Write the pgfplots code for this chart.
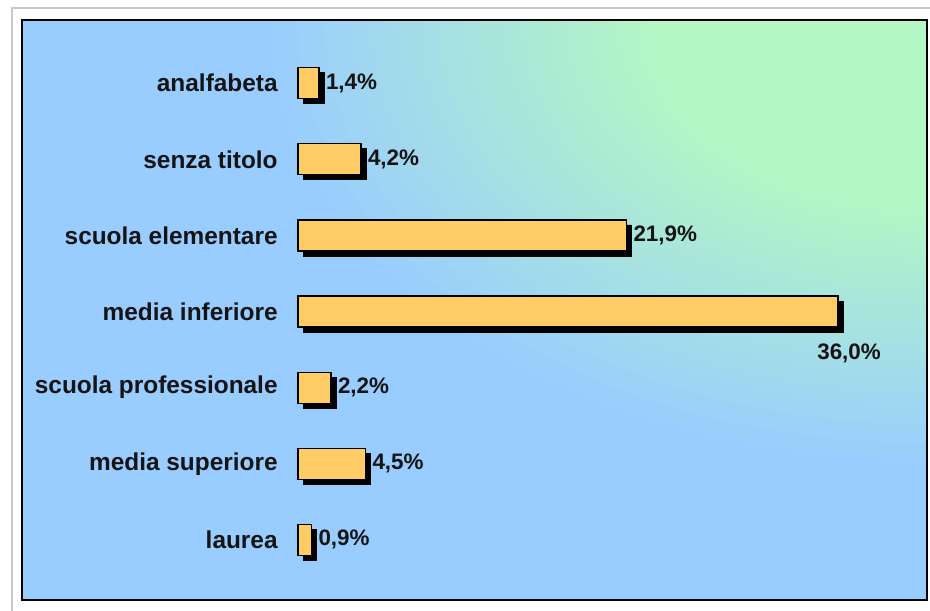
\documentclass[border=0pt]{standalone}
\usepackage{fontspec}
\setmainfont{Liberation Sans}
\usepackage{pgfplots}
\usepackage{pgfplotstable}
\pgfplotsset{compat=1.18}
\definecolor{bggreen}{RGB}{180,246,196}
\definecolor{bgblue}{RGB}{153,204,255}
\definecolor{barfill}{RGB}{255,204,102}
\pgfplotstableread[col sep=comma]{
idx,val,zero,name
6,1.4,0,analfabeta
5,4.2,0,senza titolo
4,21.9,0,scuola elementare
3,36.0,0,media inferiore
2,2.2,0,scuola professionale
1,4.5,0,media superiore
0,0.9,0,laurea
}\datatable
\pgfplotstableread[col sep=comma]{
idx,val
6,1.4
5,4.2
4,21.9
2,2.2
1,4.5
0,0.9
}\labeltable
\begin{document}
\begin{tikzpicture}
\path[use as bounding box] (0,0) rectangle (465bp,305.5bp);
\draw[black!22, line width=0.8bp] (6bp,0) -- (6bp,301.5bp) -- (465bp,301.5bp);
\begin{scope}
\clip (11bp,5.5bp) rectangle (463.5bp,295.5bp);
\fill[bgblue] (11bp,5.5bp) rectangle (463.5bp,295.5bp);
\foreach \i in {0,...,28}{
  \pgfmathsetmacro{\t}{0.96-\i*0.02}
  \pgfmathtruncatemacro{\pb}{min(100,max(0,(\t-0.4)/0.56*100))}
  \fill[bgblue!\pb!bggreen] (463.5bp,295.5bp) ellipse [x radius=\t*350bp, y radius=\t*235bp];
}
\fill[bggreen] (463.5bp,295.5bp) ellipse [x radius=0.4*350bp, y radius=0.4*235bp];
\end{scope}
\begin{axis}[
  at={(11bp,5.5bp)}, anchor=south west,
  scale only axis, width=452.5bp, height=290bp,
  xmin=-18.4, xmax=41.93, ymin=-0.79, ymax=6.83,
  xtick=\empty, ytick=\empty,
  axis line style={line width=1bp, black},
  clip=false,
  /pgf/number format/assume math mode=true,
]
% shadows
\addplot[xbar, bar width=15.5bp, bar shift=0pt, fill=black, draw=black, xshift=2.5bp, yshift=-2.5bp]
  table[x=val, y=idx] {\datatable};
% bars
\addplot[xbar, bar width=15.5bp, bar shift=0pt, fill=barfill, draw=black, line width=0.6bp]
  table[x=val, y=idx] {\datatable};
% category labels
\addplot[draw=none, nodes near coords, point meta=explicit symbolic,
  every node near coord/.style={anchor=east, inner sep=0pt, xshift=-10bp,
    font=\fontsize{12.2bp}{14bp}\selectfont\bfseries, text=black!92}]
  table[x=zero, y=idx, meta=name] {\datatable};
% value labels
\addplot[draw=none, point meta=x,
  nodes near coords={\pgfmathprintnumber[fixed, fixed zerofill, precision=1, use comma, assume math mode=true]{\pgfplotspointmeta}\%},
  every node near coord/.style={anchor=west, inner sep=0pt, xshift=3.3bp,
    font=\fontsize{11.2bp}{13bp}\selectfont\bfseries, text=black!92}]
  table[x=val, y=idx] {\labeltable};
\addplot[draw=none, point meta=x,
  nodes near coords={\pgfmathprintnumber[fixed, fixed zerofill, precision=1, use comma, assume math mode=true]{\pgfplotspointmeta}\%},
  every node near coord/.style={anchor=center, inner sep=0pt, xshift=5.5bp, yshift=-21bp,
    font=\fontsize{11.2bp}{13bp}\selectfont\bfseries, text=black!92}]
  coordinates {(36.0,3)};
\end{axis}
\end{tikzpicture}
\end{document}
